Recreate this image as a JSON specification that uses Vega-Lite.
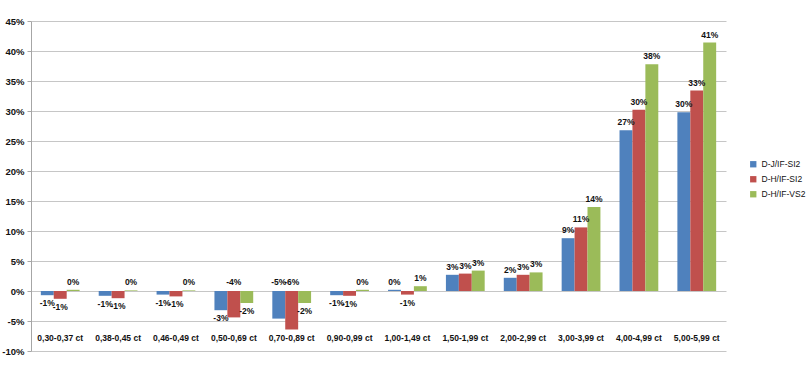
{
  "$schema": "https://vega.github.io/schema/vega-lite/v6.json",
  "width": 695,
  "height": 330,
  "autosize": {"type": "none"},
  "padding": {"left": 31, "top": 21, "right": 84, "bottom": 21},
  "background": "white",
  "config": {
    "locale": {"number": {"decimal": ".", "thousands": ",", "grouping": [3], "currency": ["", ""], "minus": "-"}},
    "view": {"stroke": null},
    "font": "Liberation Sans"
  },
  "data": {"values": [
    {"cat": "0,30-0,37 ct", "series": "D-J/IF-SI2", "v": -0.007},
    {"cat": "0,30-0,37 ct", "series": "D-H/IF-SI2", "v": -0.013},
    {"cat": "0,30-0,37 ct", "series": "D-H/IF-VS2", "v": 0.002},
    {"cat": "0,38-0,45 ct", "series": "D-J/IF-SI2", "v": -0.008},
    {"cat": "0,38-0,45 ct", "series": "D-H/IF-SI2", "v": -0.012},
    {"cat": "0,38-0,45 ct", "series": "D-H/IF-VS2", "v": 0.001},
    {"cat": "0,46-0,49 ct", "series": "D-J/IF-SI2", "v": -0.006},
    {"cat": "0,46-0,49 ct", "series": "D-H/IF-SI2", "v": -0.009},
    {"cat": "0,46-0,49 ct", "series": "D-H/IF-VS2", "v": 0.001},
    {"cat": "0,50-0,69 ct", "series": "D-J/IF-SI2", "v": -0.032},
    {"cat": "0,50-0,69 ct", "series": "D-H/IF-SI2", "v": -0.044},
    {"cat": "0,50-0,69 ct", "series": "D-H/IF-VS2", "v": -0.02},
    {"cat": "0,70-0,89 ct", "series": "D-J/IF-SI2", "v": -0.046},
    {"cat": "0,70-0,89 ct", "series": "D-H/IF-SI2", "v": -0.064},
    {"cat": "0,70-0,89 ct", "series": "D-H/IF-VS2", "v": -0.02},
    {"cat": "0,90-0,99 ct", "series": "D-J/IF-SI2", "v": -0.007},
    {"cat": "0,90-0,99 ct", "series": "D-H/IF-SI2", "v": -0.008},
    {"cat": "0,90-0,99 ct", "series": "D-H/IF-VS2", "v": 0.002},
    {"cat": "1,00-1,49 ct", "series": "D-J/IF-SI2", "v": 0.002},
    {"cat": "1,00-1,49 ct", "series": "D-H/IF-SI2", "v": -0.006},
    {"cat": "1,00-1,49 ct", "series": "D-H/IF-VS2", "v": 0.008},
    {"cat": "1,50-1,99 ct", "series": "D-J/IF-SI2", "v": 0.027},
    {"cat": "1,50-1,99 ct", "series": "D-H/IF-SI2", "v": 0.029},
    {"cat": "1,50-1,99 ct", "series": "D-H/IF-VS2", "v": 0.034},
    {"cat": "2,00-2,99 ct", "series": "D-J/IF-SI2", "v": 0.022},
    {"cat": "2,00-2,99 ct", "series": "D-H/IF-SI2", "v": 0.027},
    {"cat": "2,00-2,99 ct", "series": "D-H/IF-VS2", "v": 0.031},
    {"cat": "3,00-3,99 ct", "series": "D-J/IF-SI2", "v": 0.088},
    {"cat": "3,00-3,99 ct", "series": "D-H/IF-SI2", "v": 0.106},
    {"cat": "3,00-3,99 ct", "series": "D-H/IF-VS2", "v": 0.14},
    {"cat": "4,00-4,99 ct", "series": "D-J/IF-SI2", "v": 0.268},
    {"cat": "4,00-4,99 ct", "series": "D-H/IF-SI2", "v": 0.302},
    {"cat": "4,00-4,99 ct", "series": "D-H/IF-VS2", "v": 0.378},
    {"cat": "5,00-5,99 ct", "series": "D-J/IF-SI2", "v": 0.298},
    {"cat": "5,00-5,99 ct", "series": "D-H/IF-SI2", "v": 0.334},
    {"cat": "5,00-5,99 ct", "series": "D-H/IF-VS2", "v": 0.414}
  ]},
  "encoding": {
    "x": {
      "field": "cat", "type": "nominal", "sort": null,
      "scale": {"paddingInner": 0.33, "paddingOuter": 0.17},
      "axis": {"title": null, "labelAngle": 0, "orient": "bottom", "offset": -20, "domain": false, "ticks": false,
               "labelFontSize": 8.5, "labelFontWeight": "bold", "labelColor": "#111", "labelPadding": 2}
    },
    "xOffset": {"field": "series", "type": "nominal", "sort": ["D-J/IF-SI2", "D-H/IF-SI2", "D-H/IF-VS2"]},
    "y": {
      "field": "v", "type": "quantitative",
      "scale": {"domain": [-0.1, 0.45], "nice": false, "zero": false},
      "axis": {"title": null, "format": ".0%", "values": [-0.1, -0.05, 0, 0.05, 0.1, 0.15, 0.2, 0.25, 0.3, 0.35, 0.4, 0.45],
               "grid": true, "gridColor": "#c6c6c6", "domainColor": "#a6a6a6", "tickColor": "#a6a6a6", "tickSize": 4,
               "labelFontSize": 9.5, "labelFontWeight": "bold", "labelColor": "#111", "labelPadding": 3}
    }
  },
  "layer": [
    {
      "mark": {"type": "bar", "stroke": null},
      "encoding": {
        "color": {
          "field": "series", "type": "nominal",
          "sort": ["D-J/IF-SI2", "D-H/IF-SI2", "D-H/IF-VS2"],
          "scale": {"domain": ["D-J/IF-SI2", "D-H/IF-SI2", "D-H/IF-VS2"], "range": ["#4F81BD", "#C0504D", "#9BBB59"]},
          "legend": {"title": null, "orient": "none", "legendX": 718, "legendY": 139, "symbolType": "square",
                     "symbolSize": 40, "labelFontSize": 8.5, "labelColor": "#111", "rowPadding": 6, "symbolStrokeWidth": 0,
                     "labelOffset": 4}
        }
      }
    },
    {
      "transform": [{"filter": "datum.v >= 0"}],
      "mark": {"type": "text", "baseline": "bottom", "dy": -3, "fontSize": 8.5, "fontWeight": "bold", "color": "#111"},
      "encoding": {"text": {"field": "v", "type": "quantitative", "format": ".0%"}}
    },
    {
      "transform": [{"filter": "datum.v < 0 && datum.v > -0.04"}],
      "mark": {"type": "text", "baseline": "top", "dy": 4, "fontSize": 8.5, "fontWeight": "bold", "color": "#111"},
      "encoding": {"text": {"field": "v", "type": "quantitative", "format": ".0%"}}
    },
    {
      "transform": [{"filter": "datum.v <= -0.04"}],
      "mark": {"type": "text", "baseline": "bottom", "dy": -4, "fontSize": 8.5, "fontWeight": "bold", "color": "#111"},
      "encoding": {
        "y": {"datum": 0},
        "text": {"field": "v", "type": "quantitative", "format": ".0%"}
      }
    }
  ]
}
